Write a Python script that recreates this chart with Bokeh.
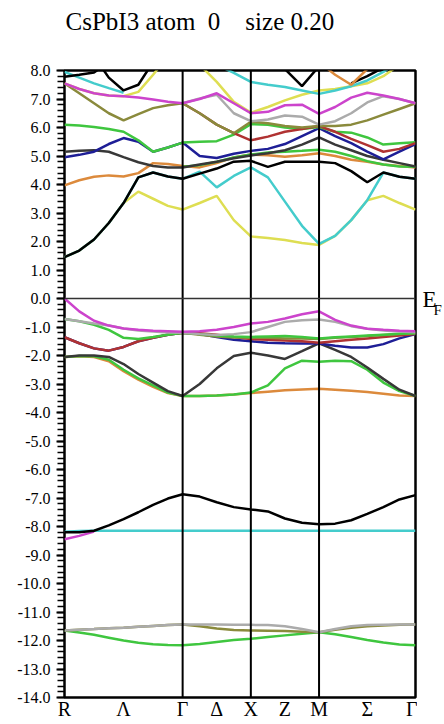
import numpy as np
from bokeh.plotting import figure
from bokeh.layouts import column, row
from bokeh.models import (Range1d, Span, FixedTicker, SingleIntervalTicker,
                          PrintfTickFormatter)
from bokeh.core.properties import value
from bokeh.embed import file_html
from bokeh.resources import INLINE

nan = float("nan")

# ---- k-path (R - Gamma - X - M - Gamma) ----
kpath_labels = ["R", "Λ", "Γ", "Δ", "X", "Z", "M", "Σ", "Γ"]
seg_lengths = [np.sqrt(3.0), 1.0, 1.0, np.sqrt(2.0)]
seg_points = [8, 4, 4, 6]

nodes = np.concatenate([[0.0], np.cumsum(seg_lengths)])
k = [0.0]
for i, (L, n) in enumerate(zip(seg_lengths, seg_points)):
    for j in range(1, n + 1):
        k.append(nodes[i] + L * j / n)
k = np.array(k)
label_pos = []
for i in range(4):
    label_pos.append(round(float(nodes[i]), 6))
    label_pos.append(round(float(nodes[i] + seg_lengths[i] / 2), 6))
label_pos.append(round(float(nodes[4]), 6))

# ---- band energies (eV) at the 23 k-points ----
green_s = [-11.65, -11.72, -11.80, -11.90, -12.00, -12.08, -12.13, -12.16, -12.17,
           -12.12, -12.05, -11.98, -11.94,
           -11.88, -11.82, -11.76, -11.71,
           -11.78, -11.88, -11.98, -12.07, -12.14, -12.17]
olive_s = [-11.65, -11.62, -11.60, -11.57, -11.55, -11.52, -11.49, -11.46, -11.44,
           -11.50, -11.58, -11.63, -11.65,
           -11.66, -11.67, -11.69, -11.71,
           -11.62, -11.55, -11.50, -11.47, -11.45, -11.44]
gray_s = [-11.65, -11.62, -11.60, -11.57, -11.55, -11.52, -11.49, -11.46, -11.44,
          -11.44, -11.44, -11.45, -11.45,
          -11.46, -11.50, -11.60, -11.71,
          -11.60, -11.50, -11.46, -11.45, -11.44, -11.44]
magenta_m = [-8.45, -8.33, -8.18, nan, nan, nan, nan, nan, nan,
             nan, nan, nan, nan,
             nan, nan, nan, nan,
             nan, nan, nan, nan, nan, nan]
cyan_m = [-8.18, -8.16, -8.15, -8.15, -8.15, -8.15, -8.15, -8.15, -8.15,
          -8.15, -8.15, -8.15, -8.15,
          -8.15, -8.15, -8.15, -8.15,
          -8.15, -8.15, -8.15, -8.15, -8.15, -8.15]
black_m = [-8.20, -8.20, -8.15, -7.96, -7.74, -7.50, -7.24, -7.02, -6.87,
           -6.95, -7.15, -7.32, -7.40,
           -7.47, -7.72, -7.87, -7.92,
           -7.90, -7.78, -7.56, -7.32, -7.05, -6.90]

orange_v = [-2.05, -2.03, -2.05, -2.20, -2.55, -2.85, -3.10, -3.32, -3.42,
            -3.42, -3.40, -3.37, -3.32,
            -3.27, -3.22, -3.19, -3.17,
            -3.20, -3.24, -3.28, -3.34, -3.40, -3.42]
green_v = [-2.05, -2.02, -2.03, -2.15, -2.50, -2.80, -3.05, -3.30, -3.42,
           -3.42, -3.40, -3.37, -3.30,
           -3.05, -2.45, -2.18, -2.22,
           -2.18, -2.20, -2.50, -2.95, -3.25, -3.42]
black_v = [-2.05, -2.00, -2.00, -2.05, -2.30, -2.65, -2.95, -3.25, -3.42,
           -3.00, -2.45, -2.02, -1.90,
           -2.00, -2.12, -1.85, -1.57,
           -1.80, -2.05, -2.42, -2.82, -3.20, -3.42]
blue_v = [-1.36, -1.57, -1.75, -1.83, -1.70, -1.50, -1.38, -1.27, -1.20,
          -1.25, -1.35, -1.45, -1.50,
          -1.55, -1.57, -1.58, -1.58,
          -1.66, -1.72, -1.72, -1.60, -1.40, -1.25]
red_v = [-1.36, -1.57, -1.75, -1.83, -1.70, -1.50, -1.38, -1.27, -1.20,
         -1.22, -1.27, -1.35, -1.42,
         -1.45, -1.47, -1.50, -1.55,
         -1.50, -1.45, -1.40, -1.35, -1.30, -1.25]
olive_v = [nan, nan, nan, nan, nan, nan, nan, -1.25, -1.20,
           -1.27, -1.33, -1.37, -1.38,
           -1.38, -1.40, -1.40, -1.42,
           -1.38, -1.35, -1.32, -1.28, -1.25, -1.22]
green_v3 = [-0.72, -0.80, -0.92, -1.10, -1.38, -1.42, -1.35, -1.27, -1.20,
            -1.25, -1.30, -1.33, -1.35,
            -1.33, -1.32, -1.35, -1.40,
            -1.36, -1.33, -1.30, -1.27, -1.24, -1.22]
gray_v = [-0.72, -0.80, -0.88, -0.95, -1.05, -1.12, -1.16, -1.19, -1.20,
          -1.25, -1.28, -1.25, -1.18,
          -1.00, -0.82, -0.76, -0.74,
          -0.82, -0.97, -1.06, -1.12, -1.16, -1.18]
magenta_v = [0.00, -0.45, -0.78, -0.95, -1.05, -1.10, -1.13, -1.15, -1.17,
             -1.15, -1.10, -1.00, -0.88,
             -0.82, -0.70, -0.55, -0.45,
             -0.75, -0.95, -1.06, -1.10, -1.13, -1.15]

yellow_c = [1.45, 1.68, 2.07, 2.65, 3.35, 3.75, 3.50, 3.25, 3.12,
            3.35, 3.60, 2.75, 2.18,
            2.12, 2.05, 1.95, 1.88,
            2.20, 2.75, 3.45, 3.60, 3.35, 3.12]
cyan_c = [1.45, 1.68, 2.07, 2.65, 3.35, 4.25, 4.42, 4.28, 4.20,
          4.45, 3.90, 4.30, 4.60,
          4.25, 3.40, 2.55, 1.92,
          2.20, 2.75, 3.45, 4.42, 4.27, 4.20]
black_c = [1.45, 1.68, 2.07, 2.65, 3.35, 4.25, 4.42, 4.28, 4.20,
           4.38, 4.56, 4.80, 4.83,
           4.62, 4.80, 4.80, 4.80,
           4.75, 4.47, 4.08, 4.42, 4.27, 4.20]
orange_c = [3.97, 4.15, 4.27, 4.32, 4.28, 4.40, 4.75, 4.72, 4.65,
            4.60, 4.75, 4.95, 5.05,
            5.03, 4.97, 5.03, 5.10,
            5.00, 4.87, 4.80, 4.70, 4.65, 4.60]
green_c2 = [nan, nan, nan, nan, nan, nan, nan, nan, 4.62,
            4.68, 4.80, 4.95, 5.05,
            5.12, 5.15, 5.18, 5.22,
            5.15, 5.00, 4.82, 4.70, 4.63, 4.62]
darkgray_c = [5.15, 5.18, 5.20, 5.15, 4.96, 4.78, 4.65, 4.60, 4.60,
              4.70, 4.80, 4.92, 5.02,
              5.10, 5.20, 5.40, 5.65,
              5.40, 5.20, 5.00, 4.87, 4.75, 4.63]
blue_c = [4.96, 5.04, 5.15, 5.42, 5.63, 5.50, 5.15, 5.30, 5.47,
          5.00, 4.93, 5.08, 5.18,
          5.25, 5.42, 5.70, 5.98,
          5.70, 5.45, 5.15, 4.88, 5.15, 5.42]
green_c1 = [6.10, 6.07, 6.02, 5.95, 5.85, 5.55, 5.15, 5.30, 5.47,
            5.50, 5.52, 5.75, 6.12,
            6.10, 6.00, 5.95, 6.02,
            5.85, 5.82, 5.65, 5.40, 5.45, 5.48]
red_c = [nan, nan, nan, nan, nan, nan, nan, nan, 6.85,
         6.50, 6.10, 5.80, 5.55,
         5.68, 5.85, 5.95, 6.05,
         5.85, 5.60, 5.38, 5.15, 5.25, 5.45]
olive_c = [7.55, 7.20, 6.85, 6.50, 6.25, 6.47, 6.68, 6.78, 6.85,
           6.50, 6.10, 5.80, 6.20,
           6.15, 6.05, 6.00, 6.05,
           6.05, 6.10, 6.25, 6.45, 6.65, 6.85]
gray_c = [nan, nan, nan, nan, nan, nan, nan, nan, 6.85,
          7.02, 7.15, 6.50, 6.22,
          6.28, 6.42, 6.38, 6.10,
          6.22, 6.50, 6.88, 7.10, 7.00, 6.85]
yellow_u = [7.55, 7.35, 7.20, 7.12, 7.10, 7.25, 7.85, 8.50, nan,
            8.20, 7.60, 6.90, 6.52,
            6.72, 6.95, 7.15, 7.30,
            7.35, 7.45, 7.55, 7.80, 8.20, nan]
magenta_c = [7.55, 7.35, 7.20, 7.12, 7.10, 7.05, 6.98, 6.90, 6.85,
             7.00, 7.20, 6.85, 6.50,
             6.55, 6.78, 6.80, 6.48,
             6.72, 7.05, 7.22, 7.12, 7.00, 6.85]
cyan_u = [7.95, 7.75, 7.55, 7.38, 7.22, nan, nan, nan, nan,
          nan, 8.20, 7.92, 7.60,
          7.50, 7.42, 7.30, 7.18,
          7.30, 7.45, 7.65, 7.95, 8.30, nan]
black_u1 = [7.78, 7.85, 7.93, 8.30, nan, nan, nan, nan, nan,
            nan, nan, nan, nan,
            nan, nan, nan, nan,
            nan, nan, nan, nan, nan, nan]
black_u2 = [nan, nan, 8.50, 7.75, 7.30, 7.50, 8.30, nan, nan,
            nan, nan, nan, nan,
            nan, 8.05, 7.45, 8.15,
            nan, 7.55, 7.80, 8.10, nan, nan]
orange_u = [nan, nan, nan, nan, nan, nan, nan, nan, nan,
            nan, nan, nan, nan,
            nan, nan, nan, 8.30,
            7.85, 7.50, 8.05, nan, nan, nan]

title_text = "CsPbI3 atom\u00a0\u00a00\u00a0\u00a0\u00a0\u00a0size 0.20"
fermi_main = "E"
fermi_sub = "F"

MAG = "#cc44cc"
GRY = "#ababab"
GRN = "#3fc63f"
RED = "#b03232"
BLU = "#1e1e96"
BLK = "#000000"
DGR = "#383838"
ORG = "#dc8a3c"
YEL = "#dede52"
CYN = "#44cccc"
OLV = "#8a8a3c"
SERIF = "Liberation Serif"

draw = [
    (green_s, GRN), (olive_s, OLV), (gray_s, GRY),
    (magenta_m, MAG), (cyan_m, CYN), (black_m, BLK),
    (orange_v, ORG), (green_v, GRN), (black_v, DGR),
    (blue_v, BLU), (red_v, RED), (olive_v, OLV), (green_v3, GRN),
    (gray_v, GRY), (magenta_v, MAG),
    (yellow_c, YEL), (cyan_c, CYN), (black_c, BLK),
    (orange_c, ORG), (green_c2, GRN), (darkgray_c, DGR),
    (blue_c, BLU), (green_c1, GRN), (red_c, RED), (olive_c, OLV),
    (gray_c, GRY), (yellow_u, YEL), (magenta_c, MAG), (cyan_u, CYN),
    (black_u1, BLK), (black_u2, BLK), (orange_u, ORG),
]

kmax = float(nodes[-1])

# ---- title strip ----
t = figure(frame_width=444, frame_height=50, x_range=Range1d(0, 444),
           y_range=Range1d(50, 0), output_backend="svg", toolbar_location=None,
           x_axis_location=None, y_axis_location=None,
           min_border_left=0, min_border_right=0, min_border_top=0,
           min_border_bottom=0)
t.outline_line_color = None
t.grid.visible = False
t.text(x=[65], y=[21], text=[title_text], text_font=value(SERIF),
       text_font_size=value("25px"), text_baseline="alphabetic",
       text_align="left", text_color="black")

# ---- main band plot ----
p = figure(frame_width=351, frame_height=627,
           x_range=Range1d(0, kmax), y_range=Range1d(-14, 8),
           output_backend="svg", toolbar_location=None,
           min_border_left=64, min_border_right=2,
           min_border_top=20, min_border_bottom=23)
p.background_fill_color = "white"
p.border_fill_color = "white"
p.outline_line_color = "black"
p.outline_line_width = 2.5
p.xgrid.visible = False
p.ygrid.visible = False

for vals, col in draw:
    p.line(k, np.array(vals, dtype=float), line_color=col, line_width=2.5)

for i in (1, 2, 3):
    p.add_layout(Span(location=float(nodes[i]), dimension="height",
                      line_color="black", line_width=2))
p.add_layout(Span(location=0, dimension="width", line_color="#333333",
                  line_width=1.3))

p.yaxis.ticker = SingleIntervalTicker(interval=1, num_minor_ticks=5)
p.yaxis.formatter = PrintfTickFormatter(format="%.1f")
p.yaxis.axis_line_color = None
p.yaxis.major_tick_in = 0
p.yaxis.major_tick_out = 8
p.yaxis.minor_tick_in = 0
p.yaxis.minor_tick_out = 7
p.yaxis.major_tick_line_width = 2
p.yaxis.minor_tick_line_width = 1.5
p.yaxis.major_tick_line_color = "black"
p.yaxis.minor_tick_line_color = "black"
p.yaxis.major_label_standoff = 6
p.yaxis.major_label_text_font = SERIF
p.yaxis.major_label_text_font_size = "16px"
p.yaxis.major_label_text_color = "black"

p.xaxis.ticker = FixedTicker(ticks=label_pos)
p.xaxis.major_label_overrides = {pos: lab for pos, lab in zip(label_pos, kpath_labels)}
p.xaxis.axis_line_color = None
p.xaxis.major_tick_in = 0
p.xaxis.major_tick_out = 0
p.xaxis.minor_tick_line_color = None
p.xaxis.major_label_standoff = 0
p.xaxis.major_label_text_font = SERIF
p.xaxis.major_label_text_font_size = "20px"
p.xaxis.major_label_text_color = "black"

# ---- Fermi level marker strip ----
q = figure(frame_width=27, frame_height=627, x_range=Range1d(0, 27),
           y_range=p.y_range, output_backend="svg", toolbar_location=None,
           x_axis_location=None, y_axis_location=None,
           min_border_left=0, min_border_right=0, min_border_top=20,
           min_border_bottom=23)
q.outline_line_color = None
q.grid.visible = False
q.text(x=[5], y=[0], text=[fermi_main], y_offset=1, text_font=value(SERIF),
       text_font_size=value("23px"), text_baseline="alphabetic",
       text_align="left", text_color="black")
q.text(x=[16], y=[0], text=[fermi_sub], y_offset=11, text_font=value(SERIF),
       text_font_size=value("15px"), text_baseline="alphabetic",
       text_align="left", text_color="black")

layout = column(t, row(p, q))
open("out.html", "w").write(file_html(layout, INLINE))
